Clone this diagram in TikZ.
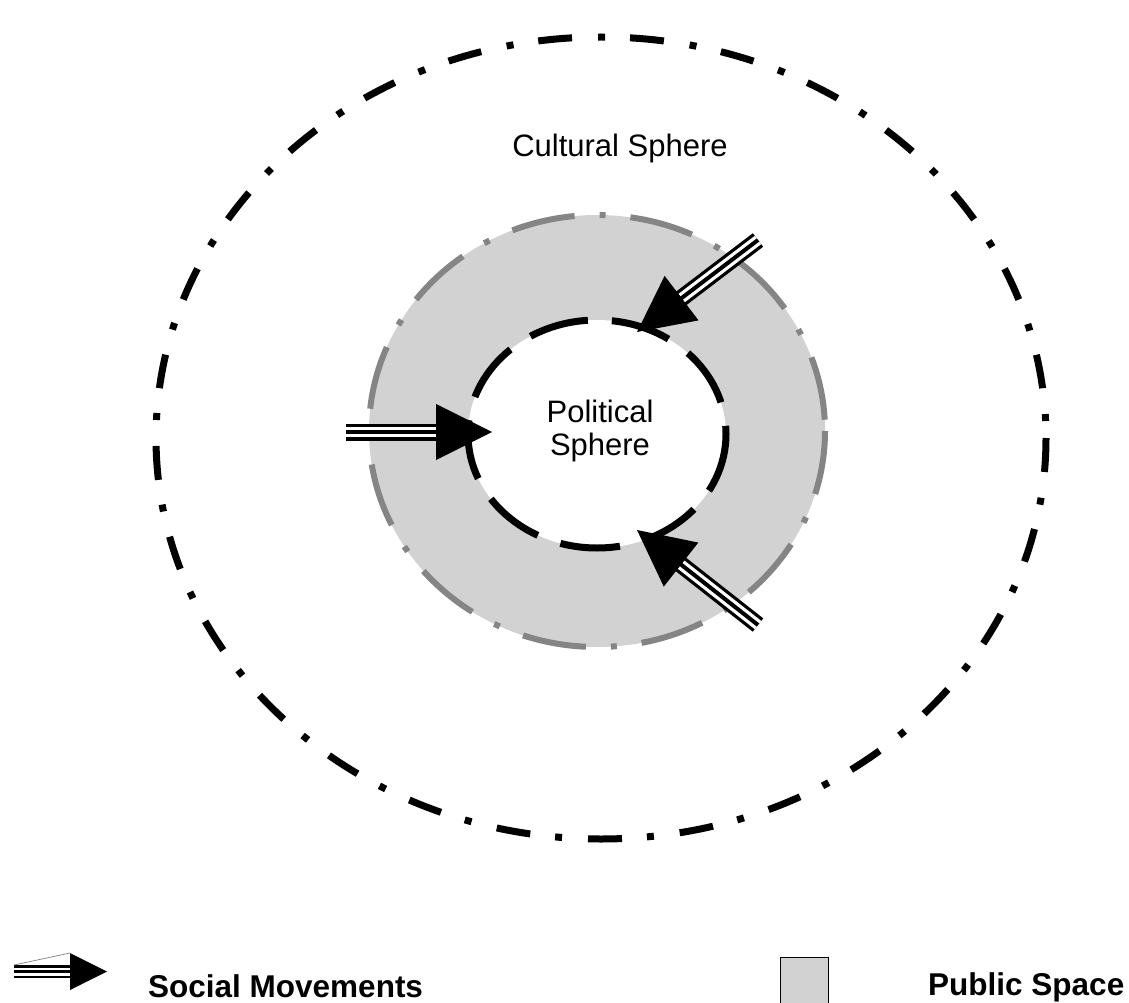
\documentclass[tikz,border=0pt]{standalone}
\usepackage{fontspec}
\setmainfont{Liberation Sans}
\usetikzlibrary{calc}
\definecolor{ringfill}{HTML}{D2D2D2}
\definecolor{ringedge}{HTML}{858585}
\tikzset{
  outerring/.style={line width=7pt, black, dash pattern=on 34pt off 26pt on 7pt off 25pt},
  publicedge/.style={line width=6pt, ringedge, dash pattern=on 64pt off 25pt on 6pt off 25pt},
  politicaledge/.style={line width=7pt, black, dash pattern=on 60pt off 24pt},
  labeltext/.style={font=\fontsize{31}{34}\selectfont, inner sep=0pt, anchor=base},
  legendtext/.style={font=\fontsize{31.5}{34}\selectfont\bfseries, inner sep=0pt, anchor=base west},
}
% tail, tip, head length, head half width, outer width, white width, core width
\newcommand{\socarrow}[7]{%
  \coordinate (hb) at ($(#2)!#3!(#1)$);
  \draw[line width=#5] (#1) -- ($(hb)!-3pt!(#1)$);
  \draw[white, line width=#6] (#1) -- (hb);
  \draw[black, line width=#7] (#1) -- ($(hb)!-3pt!(#1)$);
  \fill[black] ($(hb)!#4!90:(#2)$) -- (#2) -- ($(hb)!#4!-90:(#2)$) -- cycle;
}
\begin{document}
\begin{tikzpicture}[x=1pt, y=-1pt]
\useasboundingbox (0,0) rectangle (1129,1003);
\clip (0,0) rectangle (1129,1003);

% public space ring
\coordinate (pc) at (597,431);
\fill[ringfill] (pc) ellipse [x radius=228, y radius=216];
\draw[publicedge] (pc) ellipse [x radius=228, y radius=216];

% political sphere
\coordinate (ic) at (597,434);
\fill[white] (ic) ellipse [x radius=129, y radius=114];
\draw[politicaledge] (ic) ellipse [x radius=129, y radius=114];

% cultural sphere
\coordinate (oc) at (601,438);
\draw[outerring] (oc) ellipse [x radius=445, y radius=401];

% labels
\node[labeltext] (cult) at (620,157) {Cultural Sphere};
\node[labeltext] (pol1) at (600,422) {Political};
\node[labeltext] (pol2) at (600,455) {Sphere};

% social movement arrows
\coordinate (t1) at (758,240); \coordinate (p1) at (637,332);
\coordinate (t2) at (346,432); \coordinate (p2) at (492,432);
\coordinate (t3) at (758,625); \coordinate (p3) at (637,530);
\socarrow{t1}{p1}{56pt}{28pt}{17pt}{10.5pt}{4pt}
\socarrow{t2}{p2}{56pt}{28pt}{17pt}{10.5pt}{4pt}
\socarrow{t3}{p3}{56pt}{28pt}{17pt}{10.5pt}{4pt}

% legend
\coordinate (lt) at (14,971.5); \coordinate (lp) at (107,971.5);
\socarrow{lt}{lp}{37pt}{18.5pt}{13pt}{8pt}{3pt}
\coordinate (lg1) at (14,965); \coordinate (lg2) at (70,953);
\draw[gray, line width=0.7pt] (lg1) -- (lg2);
\node[legendtext] (lsm) at (148,997) {Social Movements};

\draw[black, line width=1pt, fill=ringfill] (780,957) rectangle (828,1012);
\node[legendtext] (lps) at (928,995) {Public Space};
\end{tikzpicture}
\end{document}
